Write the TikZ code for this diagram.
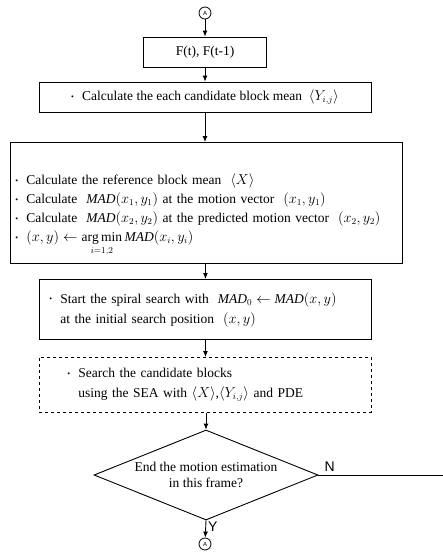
\documentclass[tikz,border=0pt]{standalone}
\usepackage{fontspec}
\usepackage{amsmath}
\setmainfont{Liberation Serif}
\newfontfamily\labelfont{Liberation Sans}
\usepackage{tikz}
\usetikzlibrary{positioning, arrows.meta, calc, shapes.geometric}
\newcommand{\dotitem}{\makebox[11pt][l]{\footnotesize\raisebox{0.3ex}{\textbullet}}}

\begin{document}
\begin{tikzpicture}[x=1pt, y=-1pt,
    stepbox/.style={draw, line width=0.9pt, inner ysep=3pt, align=left,
                    font=\fontsize{13.5}{20}\selectfont},
    joint/.style={draw, circle, line width=0.8pt, minimum size=12pt, inner sep=0pt,
                  font=\labelfont\fontsize{6}{6}\selectfont},
    flow/.style={line width=0.9pt, -{Latex[length=6pt, width=5pt]}}]
    \useasboundingbox (0,0) rectangle (443,552);

    \node[joint] (topA) at (205,13) {A};
    \node[stepbox, align=center, minimum width=123pt, minimum height=30pt] (frames) at (205,52) {F(t), F(t-1)};
    \node[stepbox, align=center, minimum width=332pt, minimum height=30pt] (meanY) at (205,97)
      {\dotitem Calculate the each candidate block mean \ $\langle Y_{i,j}\rangle$};
    \node[stepbox, anchor=north west, inner xsep=5pt, text width=382pt, minimum height=121pt,
          font=\fontsize{13.5}{19}\selectfont] (madbox) at (10,142) {%
      \mbox{}\\[16pt]
      \dotitem Calculate the reference block mean \ $\langle X\rangle$\\
      \dotitem Calculate \ $\mathit{MAD}(x_1, y_1)$ at the motion vector \ $(x_1, y_1)$\\
      \dotitem Calculate \ $\mathit{MAD}(x_2, y_2)$ at the predicted motion vector \ $(x_2, y_2)$\\
      \dotitem $(x, y) \leftarrow \mathop{\mathrm{arg\,min}}\limits_{i=1,2} \mathit{MAD}(x_i, y_i)$};
    \node[stepbox, anchor=north west, inner xsep=10pt, text width=312pt, minimum height=60pt] (spiral) at (39,279) {%
      \dotitem Start the spiral search with \ $\mathit{MAD}_0 \leftarrow \mathit{MAD}(x, y)$\\
      \hspace*{11pt}at the initial search position \ $(x, y)$};
    \node[stepbox, dashed, anchor=north west, inner xsep=28pt, text width=276pt, minimum height=55pt] (search) at (39,357) {%
      \dotitem Search the candidate blocks\\
      \hspace*{11pt}using the SEA with $\langle X\rangle$,$\langle Y_{i,j}\rangle$ and PDE};
    \node[draw, diamond, line width=0.9pt, aspect=2.5, inner sep=0pt, minimum width=224pt, minimum height=90pt,
          align=center, font=\fontsize{13.5}{16}\selectfont] (decide) at (206,475)
      {End the motion estimation\\in this frame?};
    \node[joint] (botA) at (205,544) {A};
    \coordinate (backEnd) at (443,475);

    % main flow
    \draw[flow] (topA) -- (frames);
    \draw[flow] (frames) -- (meanY);
    \draw[flow] (meanY.south) -- (meanY.south |- madbox.north);
    \draw[flow] (madbox.south -| spiral.north) -- (spiral.north);
    \draw[flow] (spiral.south -| search.north) -- (search.north);
    \draw[flow] (search.south -| decide.north) -- (decide.north);
    \draw[flow] (decide.south) -- node[right, pos=0.35, inner sep=2pt, font=\labelfont\fontsize{14}{14}\selectfont] {Y} (botA);
    \draw[line width=0.9pt] (decide.east) -- node[above right, pos=0.02, font=\labelfont\fontsize{14}{14}\selectfont] {N} (backEnd);
\end{tikzpicture}
\end{document}
